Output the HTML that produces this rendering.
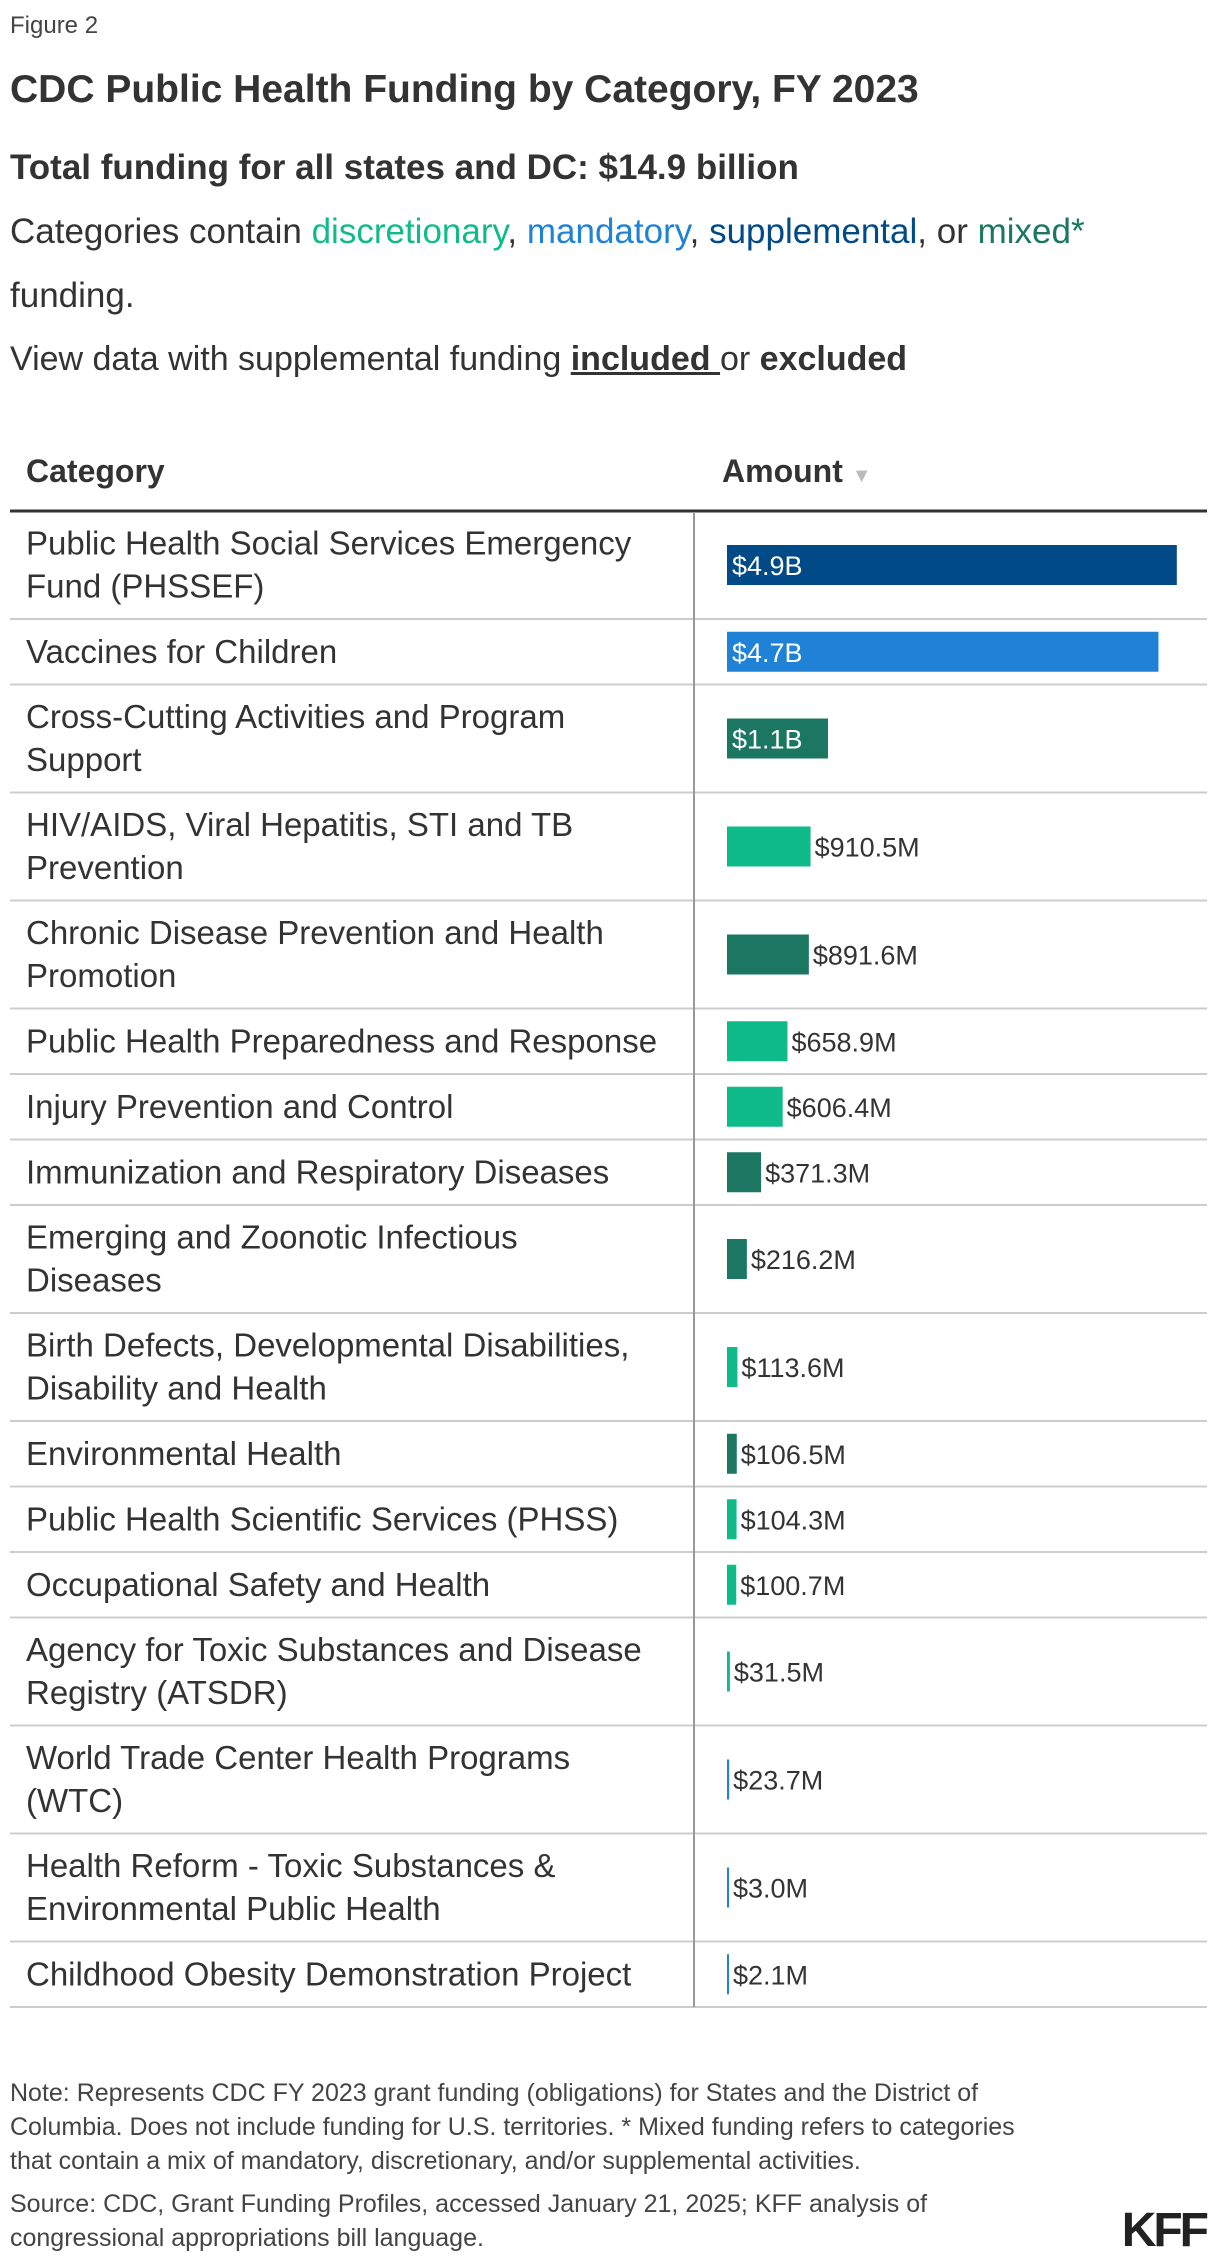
<!DOCTYPE html>
<html><head><meta charset="utf-8">
<style>
body{margin:0;width:1220px;height:2268px;background:#fff;font-family:"Liberation Sans",sans-serif;color:#333;position:relative;overflow:hidden}
.abs{position:absolute;white-space:nowrap}
#fig{left:10px;top:12px;font-size:24px;color:#444}
#title{left:10px;top:68px;font-size:39px;font-weight:bold;color:#333}
#sub{left:10px;top:148px;font-size:35px;font-weight:bold;color:#333}
#cats{left:10px;top:200px;font-size:35px;line-height:64px;white-space:normal}
#view{left:10px;top:340px;font-size:34px}
.th{top:453px;font-size:32px;font-weight:bold;color:#333}
#chart{position:absolute;left:0;top:0}
.note{left:10px;font-size:25px;line-height:34px;color:#444;white-space:normal}
#kff{right:14px;top:2203px;font-size:48px;font-weight:bold;color:#222;letter-spacing:-3px}
</style></head><body>
<div class="abs" id="fig">Figure 2</div>
<div class="abs" id="title">CDC Public Health Funding by Category, FY 2023</div>
<div class="abs" id="sub">Total funding for all states and DC: $14.9 billion</div>
<div class="abs" id="cats">Categories contain <span style="color:#10bb8a">discretionary</span>, <span style="color:#1f82d6">mandatory</span>, <span style="color:#004a88">supplemental</span>, or <span style="color:#1b7762">mixed*</span><br>funding.</div>
<div class="abs" id="view">View data with supplemental funding <b style="text-decoration:underline">included </b>or <b>excluded</b></div>
<div class="abs th" style="left:26px">Category</div>
<div class="abs th" style="left:722px">Amount <span style="color:#bbb;font-size:20px">▼</span></div>
<svg id="chart" width="1220" height="2268"></svg>
<div class="abs note" style="top:2076px">Note: Represents CDC FY 2023 grant funding (obligations) for States and the District of<br>Columbia. Does not include funding for U.S. territories. * Mixed funding refers to categories<br>that contain a mix of mandatory, discretionary, and/or supplemental activities.</div>
<div class="abs note" style="top:2187px">Source: CDC, Grant Funding Profiles, accessed January 21, 2025; KFF analysis of<br>congressional appropriations bill language.</div>
<div class="abs" id="kff">KFF</div>
<script>
const categories=[["Public Health Social Services Emergency","Fund (PHSSEF)"],["Vaccines for Children"],["Cross-Cutting Activities and Program","Support"],["HIV/AIDS, Viral Hepatitis, STI and TB","Prevention"],["Chronic Disease Prevention and Health","Promotion"],["Public Health Preparedness and Response"],["Injury Prevention and Control"],["Immunization and Respiratory Diseases"],["Emerging and Zoonotic Infectious","Diseases"],["Birth Defects, Developmental Disabilities,","Disability and Health"],["Environmental Health"],["Public Health Scientific Services (PHSS)"],["Occupational Safety and Health"],["Agency for Toxic Substances and Disease","Registry (ATSDR)"],["World Trade Center Health Programs","(WTC)"],["Health Reform - Toxic Substances &","Environmental Public Health"],["Childhood Obesity Demonstration Project"]];
const amounts=[4900,4700,1100,910.5,891.6,658.9,606.4,371.3,216.2,113.6,106.5,104.3,100.7,31.5,23.7,3.0,2.1];
const labels=["$4.9B","$4.7B","$1.1B","$910.5M","$891.6M","$658.9M","$606.4M","$371.3M","$216.2M","$113.6M","$106.5M","$104.3M","$100.7M","$31.5M","$23.7M","$3.0M","$2.1M"];
const types=["supplemental","mandatory","mixed","discretionary","mixed","discretionary","discretionary","mixed","mixed","discretionary","mixed","discretionary","discretionary","discretionary","mandatory","mandatory","mandatory"];
const colors={supplemental:"#004a88",mandatory:"#1f82d6",mixed:"#1b7762",discretionary:"#10bb8a"};
const NS="http://www.w3.org/2000/svg";
const svg=document.getElementById('chart');
const x0=727, pxPerM=0.0918;
const xs=v=>Math.max(2,v*pxPerM);
function mk(t,a){const e=document.createElementNS(NS,t);for(const k in a)e.setAttribute(k,a[k]);svg.appendChild(e);return e;}
const top0=511;
let y=top0;
let l=mk('line',{x1:10,x2:1207,y1:top0,y2:top0,stroke:'#333','stroke-width':3});


categories.forEach((c,i)=>{
  const h=c.length>1?108:65.5;
  const cy=y+h/2;
  const lh=43;
  c.forEach((line,j)=>{
    const t=mk('text',{x:26,y:cy+(j-(c.length-1)/2)*lh+11,'font-size':33,fill:'#333','font-family':'Liberation Sans, sans-serif'});
    t.textContent=line;
    
    
  });
  const w=xs(amounts[i]);
  const r=mk('rect',{x:x0,y:cy-20,width:w,height:40,fill:colors[types[i]]});
  
  
  const inside=w>90;
  const vt=mk('text',{x:inside?x0+5:x0+w+4,y:cy+10,'font-size':27,fill:inside?'#fff':'#333','font-family':'Liberation Sans, sans-serif'});
  vt.textContent=labels[i];
  
  
  y+=h;
  const rl=mk('line',{x1:10,x2:1207,y1:y,y2:y,stroke:'#ccc','stroke-width':2});
  
  
});
const d=mk('line',{x1:694,x2:694,y1:top0+1,y2:y,stroke:'#999','stroke-width':2});


</script>
</body></html>
